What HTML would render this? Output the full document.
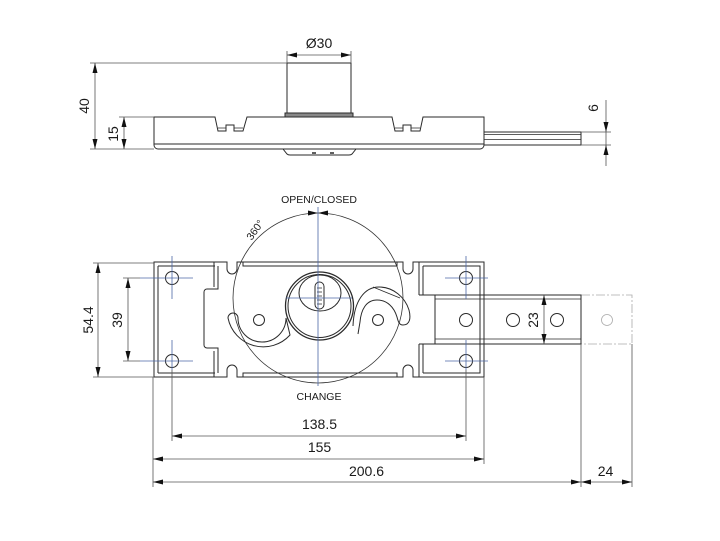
<!DOCTYPE html>
<html><head><meta charset="utf-8"><style>
html,body{margin:0;padding:0;background:#fff;}
svg{display:block;}
text{font-family:"Liberation Sans",Arial,sans-serif;fill:#1a1a1a;}
</style></head><body>
<svg width="720" height="541" viewBox="0 0 720 541" xmlns="http://www.w3.org/2000/svg">
<rect width="720" height="541" fill="#fff"/>

<!-- ============ TOP VIEW ============ -->
<g fill="none" stroke="#2a2a2a" stroke-width="1">
  <!-- cylinder -->
  <rect x="287" y="63" width="64" height="51" fill="#fff"/>
  <rect x="285" y="113" width="68" height="4" fill="#888" stroke="#2a2a2a"/>
  <!-- plate outline with notches -->
  <path d="M154,117 H215 L218,131 H226 V125 H234 V131 H243 L247,117 H392 L395,131 H403 V125 H411 V131 H420 L423,117 H484 V145 a4,4 0 0 1 -4,4 H158 a4,4 0 0 1 -4,-4 Z"/>
  <path d="M154,144 H484"/>
  <path d="M218,128 H226 M234,128 H243 M395,128 H403 M411,128 H420" stroke-width="0.8"/>
  <!-- bottom piece -->
  <path d="M283,149 L287,154 Q288,155 290,155 H349 Q351,155 352,154 L356,149"/>
  <path d="M312,153 H316 M330,153 H334" stroke-width="1.4"/>
  <!-- bolt rod -->
  <path d="M484,132 H581 V145 H484"/>
  <path d="M484,134.5 H581 M484,139.5 H581" stroke-width="0.8"/>
</g>

<!-- top view dimensions -->
<g fill="none" stroke="#555" stroke-width="0.8">
  <path d="M287,51 V63 M351,51 V63 M287,55 H351"/>
  <path d="M90,63 H287 M90,149 H154 M95,63 V149"/>
  <path d="M119,117 H154 M124,117 V149"/>
  <path d="M581,132 H611 M581,145 H611 M606,100 V166"/>
</g>
<g fill="#111" stroke="none">
  <polygon points="287,55 297,52.5 297,57.5"/>
  <polygon points="351,55 341,52.5 341,57.5"/>
  <polygon points="95,63 92.5,73 97.5,73"/>
  <polygon points="95,149 92.5,139 97.5,139"/>
  <polygon points="124,117 121.5,127 126.5,127"/>
  <polygon points="124,149 121.5,139 126.5,139"/>
  <polygon points="606,132 603.5,122 608.5,122"/>
  <polygon points="606,145 603.5,155 608.5,155"/>
</g>
<text x="319" y="48" font-size="14" text-anchor="middle">Ø30</text>
<text transform="translate(89,106) rotate(-90)" font-size="14" text-anchor="middle">40</text>
<text transform="translate(118,134) rotate(-90)" font-size="14" text-anchor="middle">15</text>
<text transform="translate(598,108) rotate(-90)" font-size="14" text-anchor="middle">6</text>

<!-- ============ FRONT VIEW ============ -->
<!-- dashed bolt extension -->
<g fill="none" stroke="#aaa" stroke-width="0.8">
  <path d="M581,295 H632 V344 H581" stroke-dasharray="9 2 2 2"/>
  <circle cx="607" cy="320" r="5.5"/>
</g>

<!-- dial circle -->
<circle cx="318" cy="298" r="85" fill="none" stroke="#333" stroke-width="0.8"/>

<g fill="none" stroke="#2a2a2a" stroke-width="1">
  <!-- outer frame with notches -->
  <path d="M154,262 H227 V269 a5,5 0 0 0 10,0 V262 H403 V269 a5,5 0 0 0 10,0 V262 H484 V377 H413 V370 a5,5 0 0 0 -10,0 V377 H237 V370 a5,5 0 0 0 -10,0 V377 H154 Z"/>
  <!-- left inner -->
  <path d="M158,266 V373 M158,266 H215 M158,373 H215"/>
  <path d="M214,262 V287 M214,351 V377"/>
  <path d="M218,266 V289 H207 a3,3 0 0 0 -3,3 V345 a3,3 0 0 0 3,3 H218 V373"/>
  <!-- top/bottom inner lines middle -->
  <path d="M243,262 V266 H397 V262 M243,377 V373 H397 V377"/>
  <!-- right inner -->
  <path d="M419,262 V295 M419,344 V377"/>
  <path d="M423,266 V295 M423,344 V373"/>
  <path d="M423,266 H480 V373 H423"/>
  <!-- bolt -->
  <path d="M419,295 H581 V344 H419"/>
  <path d="M435,295 V344"/>
  <path d="M435,299 H581 M435,339 H581" stroke-width="0.8"/>
  <!-- holes -->
  <circle cx="172" cy="278" r="6.5"/>
  <circle cx="172" cy="361" r="6.5"/>
  <circle cx="466" cy="278" r="6.5"/>
  <circle cx="466" cy="361" r="6.5"/>
  <circle cx="466" cy="320" r="6.5"/>
  <circle cx="513" cy="320" r="6.5"/>
  <circle cx="557" cy="320" r="6.5"/>
  <!-- left hook -->
  <path d="M228,318 A36,36 0 0 0 290,335 L286,318 A24,24 0 0 1 238,318 A5,5 0 0 0 228,318 Z"/>
  <circle cx="259" cy="320" r="5.5"/>
  <!-- right cam -->
  <path d="M353,326 C354,300 365,287 379,287 C393,287 405,297 409,310 C411,318 410,325 403,325 C399,325 398,321 397,317 C394,307 387,300 377,300 C366,300 361,310 360,322 L358,334"/>
  <path d="M373,287 L400,298" stroke-width="0.8"/>
  <circle cx="378" cy="320" r="5.5"/>
  <!-- key cylinder -->
  <circle cx="319.5" cy="306" r="34" fill="#fff" stroke-width="1.3"/>
  <circle cx="319.5" cy="306" r="31.5"/>
  <ellipse cx="320" cy="293" rx="21" ry="18"/>
  <rect x="315" y="282" width="9" height="27" rx="4.5"/>
  <path d="M317,288 H322 M317,292 H322 M317,296 H322 M317,300 H322 M317,304 H322" stroke-width="0.7"/>
</g>

<!-- centre lines (blue) -->
<g fill="none" stroke="#4c68a6" stroke-width="0.8">
  <path d="M318,207 V386 M286,298 H352"/>
  <path d="M140,278 H193 M140,361 H193 M172,256 V299 M172,340 V370"/>
  <path d="M445,278 H488 M445,361 H488 M466,256 V299 M466,340 V370"/>
</g>

<!-- OPEN/CLOSED arrows -->
<g fill="#111">
  <polygon points="318,213 308,210.5 308,215.5"/>
  <polygon points="318,213 328,210.5 328,215.5"/>
</g>
<text x="319" y="203" font-size="10.5" text-anchor="middle">OPEN/CLOSED</text>
<text x="319" y="400" font-size="10.5" text-anchor="middle">CHANGE</text>
<text transform="translate(258,232) rotate(-55)" font-size="10.5" text-anchor="middle">360°</text>

<!-- front dimensions -->
<g fill="none" stroke="#555" stroke-width="0.8">
  <path d="M93,263 H154 M93,377 H154 M98,263 V377"/>
  <path d="M123,278 H140 M123,361 H140 M128,278 V361"/>
  <path d="M544,295 V344"/>
  <path d="M172,370 V441 M466,370 V441 M172,436 H466"/>
  <path d="M153,377 V487 M484,377 V464 M153,459 H484"/>
  <path d="M581,344 V487 M632,344 V487 M153,482 H632"/>
</g>
<g fill="#111">
  <polygon points="98,263 95.5,273 100.5,273"/>
  <polygon points="98,377 95.5,367 100.5,367"/>
  <polygon points="128,278 125.5,288 130.5,288"/>
  <polygon points="128,361 125.5,351 130.5,351"/>
  <polygon points="544,295 541.5,305 546.5,305"/>
  <polygon points="544,344 541.5,334 546.5,334"/>
  <polygon points="172,436 182,433.5 182,438.5"/>
  <polygon points="466,436 456,433.5 456,438.5"/>
  <polygon points="153,459 163,456.5 163,461.5"/>
  <polygon points="484,459 474,456.5 474,461.5"/>
  <polygon points="153,482 163,479.5 163,484.5"/>
  <polygon points="581,482 571,479.5 571,484.5"/>
  <polygon points="581,482 591,479.5 591,484.5"/>
  <polygon points="632,482 622,479.5 622,484.5"/>
</g>
<text transform="translate(93,320) rotate(-90)" font-size="14" text-anchor="middle">54.4</text>
<text transform="translate(122,320) rotate(-90)" font-size="14" text-anchor="middle">39</text>
<text transform="translate(538,320) rotate(-90)" font-size="14" text-anchor="middle">23</text>
<text x="319.5" y="429" font-size="14" text-anchor="middle">138.5</text>
<text x="319.5" y="452" font-size="14" text-anchor="middle">155</text>
<text x="366.5" y="476" font-size="14" text-anchor="middle">200.6</text>
<text x="605.5" y="476" font-size="14" text-anchor="middle">24</text>
</svg>
</body></html>
